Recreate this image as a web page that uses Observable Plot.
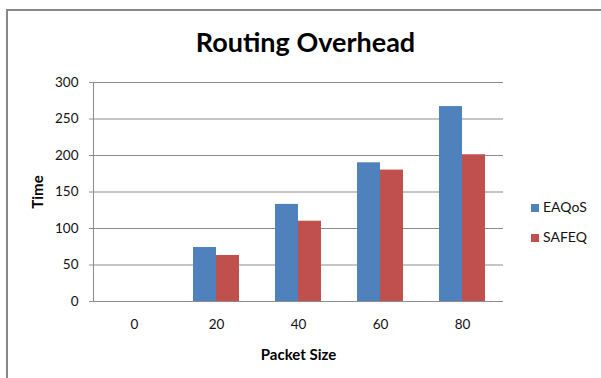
<!DOCTYPE html>
<html>
<head>
<meta charset="utf-8">
<script src="https://cdn.jsdelivr.net/npm/d3@7"></script>
<script src="https://cdn.jsdelivr.net/npm/@observablehq/plot@0.6"></script>
<style>
  html, body { margin: 0; padding: 0; background: #fff; }
  #chart { position: relative; width: 601px; height: 378px; overflow: hidden; font-family: Lato, "Open Sans", sans-serif; color: #111; }
  #border { position: absolute; left: 6px; top: 9px; width: 700px; height: 500px; border-left: 2px solid #888; border-top: 2px solid #888; box-sizing: border-box; }
  #title { box-sizing: border-box; width: 601px; height: 62px; padding-top: 28px; padding-left: 10px; font-weight: 700; font-size: 27px; line-height: 27px; text-align: center; color: #000; }
  #legend { position: absolute; left: 531px; top: 0; }
  .item { position: absolute; left: 0; white-space: nowrap; font-size: 14px; line-height: 14px; }
  .item .sw { position: absolute; left: 0; width: 8px; height: 8px; }
  .item .lb { position: absolute; left: 12px; top: 0; }
  svg { display: block; }
</style>
</head>
<body>
<div id="chart">
  <div id="border"></div>
  <div id="title">Routing Overhead</div>
  <div id="plot"></div>
  <div id="legend"></div>
</div>
<script>
// Packet sizes on the x axis and the routing overhead of each protocol
const sizes = ["0", "20", "40", "60", "80"];
const series = ["EAQoS", "SAFEQ"];
const eaqos = [0, 74, 133, 190, 267];
const safeq = [0, 63, 110, 180, 201];
const yTicks = [0, 50, 100, 150, 200, 250, 300];
const colors = ["#4F81BD", "#C0504D"];

// long table: one row per bar
const rows = sizes.flatMap((s, i) => [
  {size: s, series: series[0], value: eaqos[i]},
  {size: s, series: series[1], value: safeq[i]}
]);

const grid = "#8c8c8c";

const chart = Plot.plot({
  width: 601,
  height: 316,
  marginTop: 20,
  marginBottom: 77,
  marginLeft: 93,
  marginRight: 98,
  style: {fontFamily: "Lato, 'Open Sans', sans-serif", fontSize: "13.5px", color: "#111", background: "transparent"},
  fx: {domain: sizes, padding: 0},
  x: {domain: series, paddingInner: 0, paddingOuter: 0.78, axis: null},
  y: {domain: [0, 300]},
  color: {domain: series, range: colors},
  marks: [
    Plot.gridY(yTicks, {stroke: grid, strokeOpacity: 1}),
    Plot.ruleY([0], {stroke: grid}),
    Plot.frame({anchor: "left", stroke: grid, facetAnchor: "left"}),
    Plot.barY(rows, {fx: "size", x: "series", y: "value", fill: "series"}),
    Plot.axisY({ticks: yTicks, tickSize: 4, tickPadding: 11, stroke: grid, label: null, fontSize: 13.5}),
    Plot.axisY({ticks: [], label: "Time", labelAnchor: "center", labelOffset: 61, labelArrow: "none", fontWeight: "bold", fontSize: 15, fill: "#000"}),
    Plot.axisFx({anchor: "bottom", tickSize: 0, tickPadding: 17.5, label: null, fontSize: 13.5}),
    Plot.axisFx({anchor: "bottom", ticks: [], label: "Packet Size", labelAnchor: "center", labelOffset: 58, fontWeight: "bold", fontSize: 15, fill: "#000"})
  ]
});
document.getElementById("plot").appendChild(chart);

// legend to the right of the plot
const legend = document.getElementById("legend");
const legendTops = [200, 230];
series.forEach((name, i) => {
  const item = document.createElement("div");
  item.className = "item";
  item.style.top = legendTops[i] + "px";
  item.innerHTML = `<span class="sw" style="background:${colors[i]};top:4px"></span><span class="lb">${name}</span>`;
  legend.appendChild(item);
});
</script>
</body>
</html>
